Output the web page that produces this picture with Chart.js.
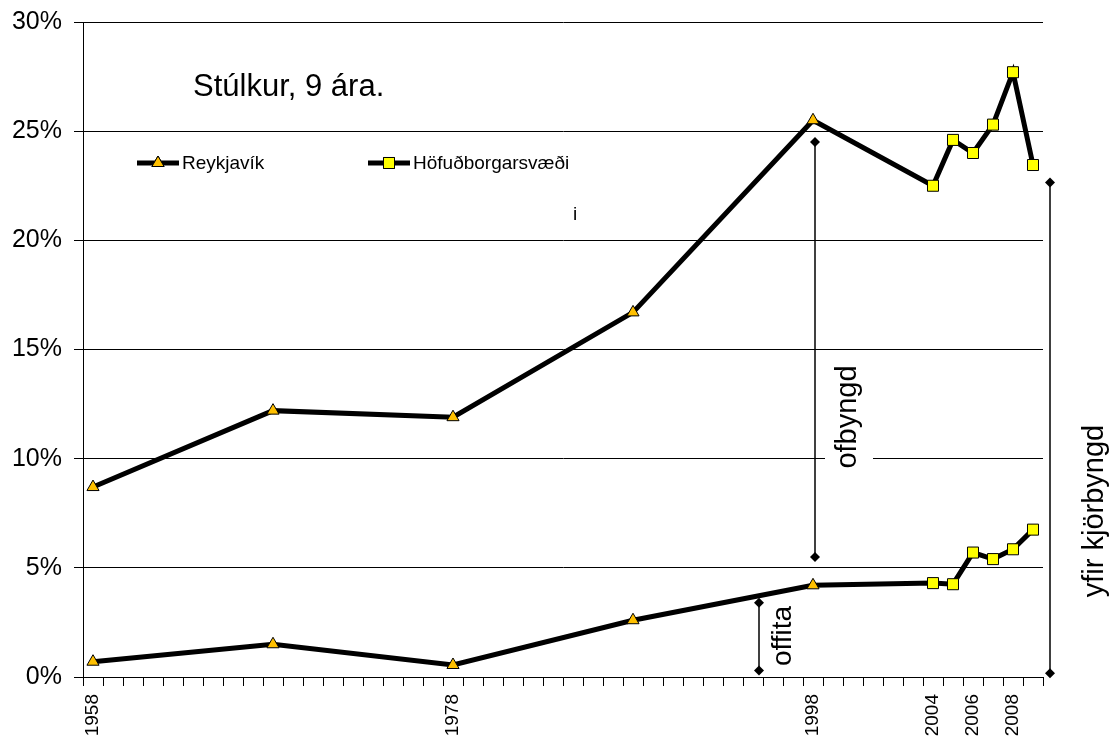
<!DOCTYPE html>
<html>
<head>
<meta charset="utf-8">
<script src="https://cdn.jsdelivr.net/npm/chart.js@4/dist/chart.umd.min.js"></script>
<style>
    body { margin: 0; background: #fff; }
    #wrap { width: 1119px; height: 740px; }
</style>
</head>
<body>
<div id="wrap"><canvas id="chart" width="1119" height="740"></canvas></div>
<script>
// 48 categories on the x axis, only some of them labelled
const xLabels = [
    "1958", "", "", "", "", "", "", "", "", "", "", "", "", "", "", "", "", "",
    "1978", "", "", "", "", "", "", "", "", "", "", "", "", "", "", "", "", "",
    "1998", "", "", "", "", "",
    "2004", "", "2006", "", "2008", ""
];

const rvkPos = [0, 9, 18, 27, 36];
const rvkOverweight = [8.7, 12.2, 11.9, 16.7, 25.5];
const rvkObese = [0.7, 1.5, 0.55, 2.6, 4.2];

const hbsPos = [42, 43, 44, 45, 46, 47];
const hbsOverweight = [22.5, 24.6, 24.0, 25.3, 27.7, 23.45];
const hbsObese = [4.3, 4.25, 5.7, 5.4, 5.85, 6.75];

const yTicks = [0, 5, 10, 15, 20, 25, 30];

const FONT = "'Liberation Sans', Arial, sans-serif";
const triColor = "#FFC000";
const sqColor = "#FFFF00";

// spread values over the full category list, nulls elsewhere
const toSeries = (pos, vals) => {
    const out = xLabels.map(() => null);
    pos.forEach((p, i) => { out[p] = vals[i]; });
    return out;
};

// Höfuðborgarsvæði line starts from the last Reykjavík point (hidden marker)
const last = rvkPos.length - 1;
const linkPos = [rvkPos[last]].concat(hbsPos);
const hbsUpper = toSeries(linkPos, [rvkOverweight[last]].concat(hbsOverweight));
const hbsLower = toSeries(linkPos, [rvkObese[last]].concat(hbsObese));

const rvkStyle = {
    borderColor: "#000",
    borderWidth: 5,
    pointStyle: "triangle",
    pointRadius: 7,
    pointBackgroundColor: triColor,
    pointBorderColor: "#000",
    pointBorderWidth: 1,
    tension: 0,
    fill: false,
    spanGaps: true,
};
const hbsStyle = {
    borderColor: "#000",
    borderWidth: 5,
    pointStyle: "rect",
    pointRadius: (c) => (c.dataIndex === rvkPos[last] ? 0 : 7.8),
    pointBackgroundColor: sqColor,
    pointBorderColor: "#000",
    pointBorderWidth: 1,
    tension: 0,
    fill: false,
    spanGaps: true,
};

const drawDiamond = (ctx, x, y, r) => {
    ctx.beginPath();
    ctx.moveTo(x, y - r);
    ctx.lineTo(x + r, y);
    ctx.lineTo(x, y + r);
    ctx.lineTo(x - r, y);
    ctx.closePath();
    ctx.fill();
};

const drawVText = (ctx, text, x, y, size) => {
    ctx.save();
    ctx.translate(x, y);
    ctx.rotate(-Math.PI / 2);
    ctx.font = size + "px " + FONT;
    ctx.textAlign = "center";
    ctx.textBaseline = "alphabetic";
    ctx.fillText(text, 0, 0);
    ctx.restore();
};

const extras = {
    id: "extras",
    afterDraw(chart) {
        const ctx = chart.ctx;
        const xs = chart.scales.x;
        const ys = chart.scales.y;
        ctx.save();
        ctx.fillStyle = "#000";
        ctx.strokeStyle = "#000";

        // title
        ctx.font = "31px " + FONT;
        ctx.textAlign = "left";
        ctx.textBaseline = "alphabetic";
        ctx.fillText("Stúlkur, 9 ára.", 193, 96);

        // legend
        const legend = [
            { x: 137, text: "Reykjavík", style: "triangle", color: triColor },
            { x: 368, text: "Höfuðborgarsvæði", style: "rect", color: sqColor },
        ];
        legend.forEach((l) => {
            ctx.lineWidth = 5;
            ctx.beginPath();
            ctx.moveTo(l.x, 163);
            ctx.lineTo(l.x + 42, 163);
            ctx.stroke();
            ctx.fillStyle = l.color;
            ctx.lineWidth = 1;
            Chart.helpers.drawPoint(ctx, { pointStyle: l.style, radius: l.style === "rect" ? 7.8 : 7, borderWidth: 1 }, l.x + 21, 163);
            ctx.fill();
            ctx.stroke();
            ctx.fillStyle = "#000";
            ctx.font = "19px " + FONT;
            ctx.textBaseline = "middle";
            ctx.fillText(l.text, l.x + 45, 164);
        });
        ctx.fillText("i", 573, 215);

        // ofbyngd
        const x1 = xs.getPixelForValue(36) + 2;
        ctx.lineWidth = 1.5;
        ctx.beginPath();
        ctx.moveTo(x1, ys.getPixelForValue(24.5));
        ctx.lineTo(x1, ys.getPixelForValue(5.5));
        ctx.stroke();
        drawDiamond(ctx, x1, ys.getPixelForValue(24.5), 5);
        drawDiamond(ctx, x1, ys.getPixelForValue(5.5), 5);
        ctx.fillStyle = "#fff";
        ctx.fillRect(x1 + 10, ys.getPixelForValue(10) - 5, 48, 10);
        ctx.fillStyle = "#000";
        drawVText(ctx, "ofbyngd", x1 + 41, 417, 29);

        // offita
        const x2 = xs.getPixelForValue(33.3);
        ctx.beginPath();
        ctx.moveTo(x2, ys.getPixelForValue(3.4));
        ctx.lineTo(x2, ys.getPixelForValue(0.3));
        ctx.stroke();
        drawDiamond(ctx, x2, ys.getPixelForValue(3.4), 5);
        drawDiamond(ctx, x2, ys.getPixelForValue(0.3), 5);
        drawVText(ctx, "offita", x2 + 32, 636, 28);

        // yfir kjörbyngd
        const x3 = xs.getPixelForValue(47.85);
        ctx.beginPath();
        ctx.moveTo(x3, ys.getPixelForValue(22.65));
        ctx.lineTo(x3, ys.getPixelForValue(0.17));
        ctx.stroke();
        drawDiamond(ctx, x3, ys.getPixelForValue(22.65), 5);
        drawDiamond(ctx, x3, ys.getPixelForValue(0.17), 5);
        drawVText(ctx, "yfir kjörbyngd", x3 + 53, 511, 29);

        ctx.restore();
    },
};

new Chart(document.getElementById("chart"), {
    type: "line",
    data: {
        labels: xLabels,
        datasets: [
            Object.assign({ label: "Reykjavík", data: toSeries(rvkPos, rvkOverweight) }, rvkStyle),
            Object.assign({ label: "Reykjavík offita", data: toSeries(rvkPos, rvkObese) }, rvkStyle),
            Object.assign({ label: "Höfuðborgarsvæði", data: hbsUpper }, hbsStyle),
            Object.assign({ label: "Höfuðborgarsvæði offita", data: hbsLower }, hbsStyle),
        ],
    },
    options: {
        responsive: false,
        animation: false,
        layout: { padding: { left: 0, right: 76, top: 22, bottom: 0 } },
        scales: {
            x: {
                type: "category",
                offset: true,
                grid: { display: true, offset: true, drawOnChartArea: false, drawTicks: true, tickLength: 9, color: "#000" },
                border: { display: true, color: "#000", width: 1 },
                ticks: {
                    autoSkip: false,
                    maxRotation: 90,
                    minRotation: 90,
                    padding: 8,
                    color: "#000",
                    font: { family: FONT, size: 19 },
                },
                afterFit: (s) => { s.height = 63; s.paddingLeft = 0; s.paddingRight = 0; },
            },
            y: {
                min: yTicks[0],
                max: yTicks[yTicks.length - 1],
                afterBuildTicks: (s) => { s.ticks = yTicks.map((v) => ({ value: v })); },
                grid: { color: "#000", lineWidth: 1, tickLength: 9 },
                border: { display: true, color: "#000", width: 1 },
                ticks: {
                    padding: 12,
                    color: "#000",
                    font: { family: FONT, size: 25 },
                    callback: (v) => v + "%",
                },
                afterFit: (s) => { s.width = 83; s.paddingTop = 0; s.paddingBottom = 0; },
            },
        },
        plugins: {
            legend: { display: false },
            tooltip: { enabled: false },
        },
    },
    plugins: [extras],
});
</script>
</body>
</html>
